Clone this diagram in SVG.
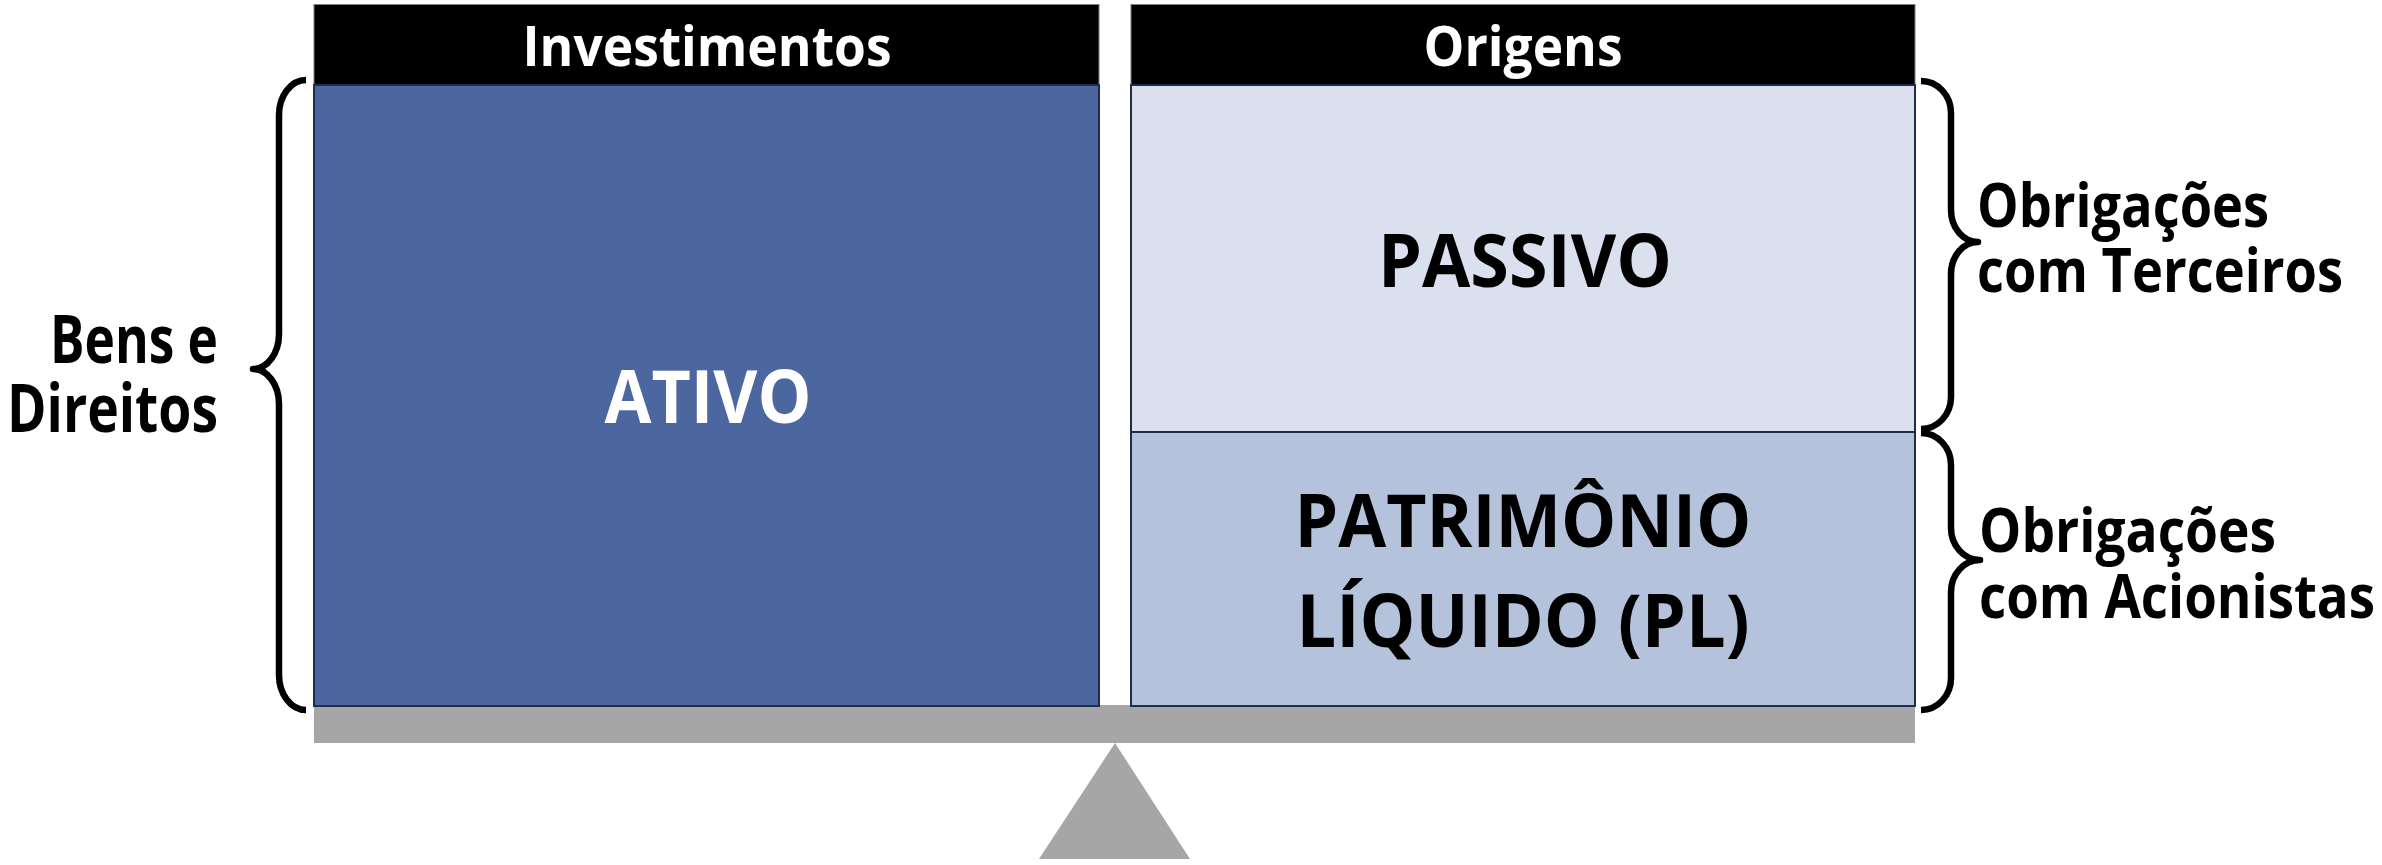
<svg xmlns="http://www.w3.org/2000/svg" width="2382" height="865" viewBox="0 0 2382 865">
<style>
text{font-family:"Open Sans","Noto Sans","Liberation Sans",sans-serif;font-weight:700}
.hdr{fill:#000;stroke:#7f7f7f;stroke-width:1}
.htxt{fill:#fff;font-size:56px;text-anchor:middle}
.box{stroke:#1f2d4d;stroke-width:2}
.big{font-size:74px;text-anchor:middle}
.lbl{font-size:61px;fill:#000}
.brace{fill:none;stroke:#000;stroke-width:6.5;stroke-linecap:butt;stroke-linejoin:round}
.scale{fill:#a6a6a6}
</style>
<rect width="2382" height="865" fill="#fff"/>
<g id="balance">
<rect class="scale" x="314" y="705" width="1601" height="38"/>
<polygon class="scale" points="1115,743 1190,859 1039,859"/>
</g>
<g id="investimentos">
<rect class="hdr" x="314" y="4.5" width="785" height="80.5"/>
<text class="htxt" x="707" y="66" textLength="369" lengthAdjust="spacingAndGlyphs">Investimentos</text>
</g>
<g id="origens">
<rect class="hdr" x="1131" y="4.5" width="784" height="80.5"/>
<text class="htxt" x="1523" y="66" textLength="199" lengthAdjust="spacingAndGlyphs">Origens</text>
</g>
<g id="ativo">
<rect class="box" x="314" y="85" width="785" height="621" fill="#4c679f"/>
<text class="big" x="708" y="423" fill="#fff" textLength="207" lengthAdjust="spacingAndGlyphs">ATIVO</text>
</g>
<g id="passivo">
<rect class="box" x="1131" y="85" width="784" height="347" fill="#dae0ee"/>
<text class="big" x="1525" y="287" fill="#000" textLength="294" lengthAdjust="spacingAndGlyphs">PASSIVO</text>
</g>
<g id="patrimonio">
<rect class="box" x="1131" y="432" width="784" height="274" fill="#b4c2dc"/>
<text class="big" x="1523" y="547" fill="#000" textLength="457" lengthAdjust="spacingAndGlyphs">PATRIMÔNIO</text>
<text class="big" x="1523" y="647" fill="#000" textLength="453" lengthAdjust="spacingAndGlyphs">LÍQUIDO (PL)</text>
</g>
<g id="braces">
<path class="brace" d="M306,80 A27,35 0 0 0 279,115 L279,334 A26,35 0 0 1 253,369 A26,35 0 0 1 279,404 L279,675 A27,35 0 0 0 306,710"/>
<path class="brace" d="M1921,81 A30,32 0 0 1 1951,113 L1951,210 A27,32 0 0 0 1978,242 A27,32 0 0 0 1951,274 L1951,397 A30,32 0 0 1 1921,429"/>
<path class="brace" d="M1921,433 A30,32 0 0 1 1951,465 L1951,528 A29,32 0 0 0 1980,560 A29,32 0 0 0 1951,592 L1951,678 A30,32 0 0 1 1921,710"/>
</g>
<g id="bens-direitos">
<text class="lbl" x="218" y="363" text-anchor="end" textLength="168" lengthAdjust="spacingAndGlyphs" style="font-size:66px">Bens e</text>
<text class="lbl" x="218" y="432" text-anchor="end" textLength="211" lengthAdjust="spacingAndGlyphs" style="font-size:66px">Direitos</text>
</g>
<g id="obrigacoes-terceiros">
<text class="lbl" x="1977" y="227" textLength="292" lengthAdjust="spacingAndGlyphs">Obrigações</text>
<text class="lbl" x="1977" y="292" textLength="366" lengthAdjust="spacingAndGlyphs">com Terceiros</text>
</g>
<g id="obrigacoes-acionistas">
<text class="lbl" x="1979" y="552" textLength="297" lengthAdjust="spacingAndGlyphs">Obrigações</text>
<text class="lbl" x="1979" y="618" textLength="396" lengthAdjust="spacingAndGlyphs">com Acionistas</text>
</g>
</svg>
